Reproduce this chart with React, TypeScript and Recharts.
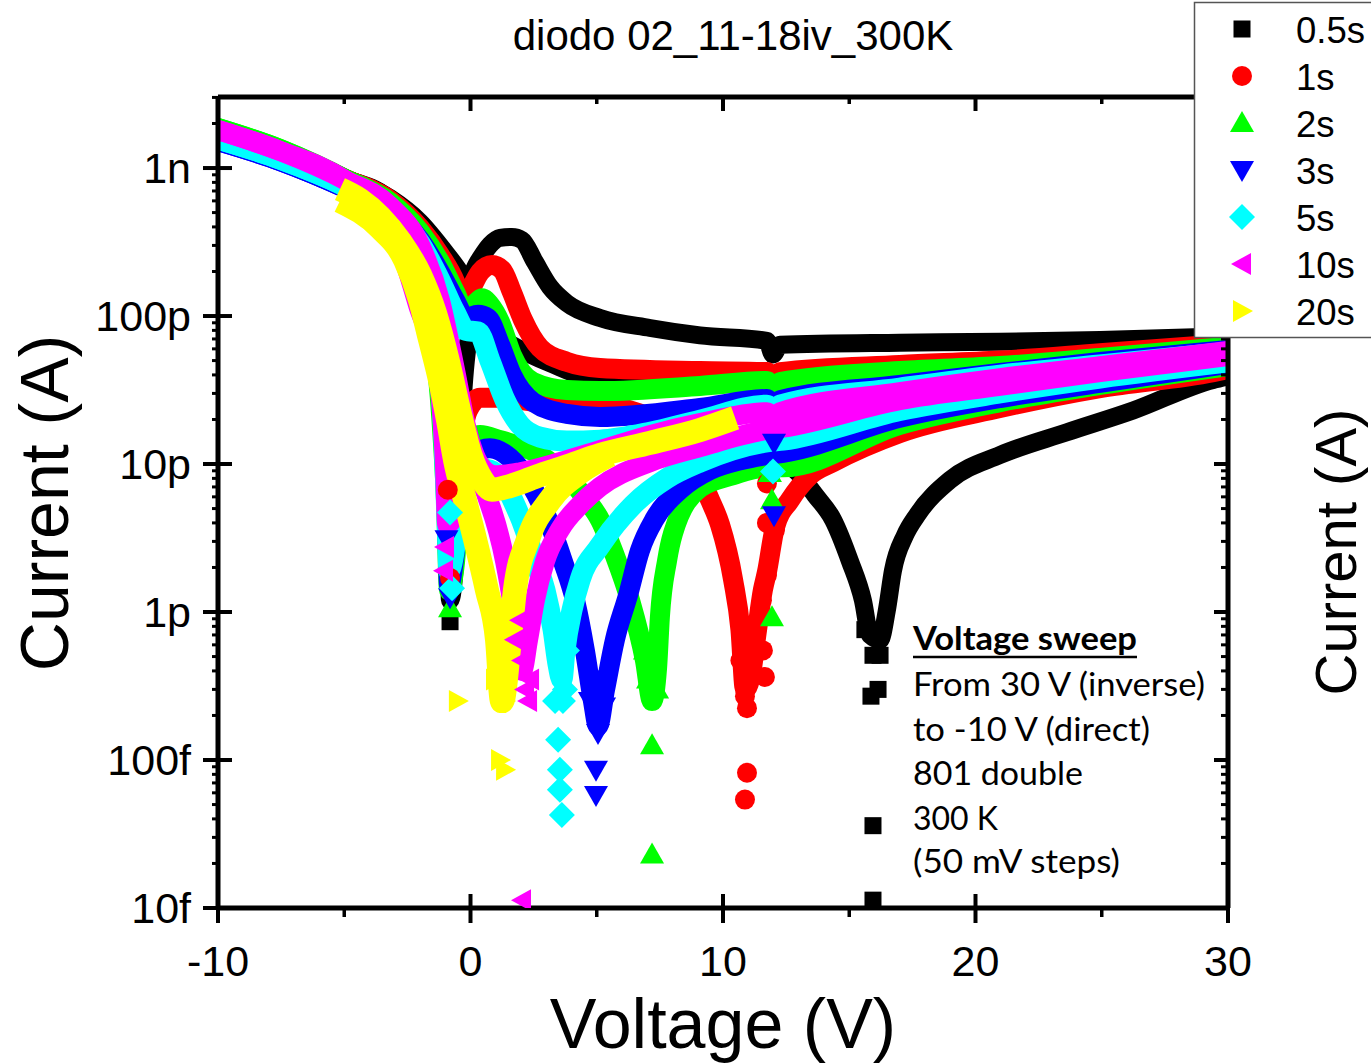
import React from 'react';
import { ComposedChart, Line, XAxis, YAxis } from 'recharts';

type Pt = [number, number]; // [voltage V, |current| pA]

// ---- 0.5s (black) ----
const BLACK_UP: Pt[] = [[-10, 1830], [-7.54, 1320], [-4.97, 855], [-3.19, 627], [-2.0, 432], [-1.01, 271], [-0.42, 198], [-0.18, 170], [0.3, 232], [0.77, 302], [1.17, 337], [1.64, 342], [2.04, 326], [2.55, 232], [3.15, 157], [3.82, 122], [5.13, 97], [7.11, 83], [9.09, 74], [11.74, 68], [11.98, 55], [12.26, 64], [17.0, 66], [20.97, 67], [24.93, 69], [30, 73]];
const BLACK_LOW: Pt[] = [[-10, 1830], [-7.54, 1320], [-4.97, 855], [-3.19, 608], [-2.4, 326], [-1.8, 150], [-1.3, 50], [-1.05, 12.4], [-0.9, 3.6], [-0.81, 1.2], [-0.61, 2.2], [-0.42, 12.4], [-0.22, 43], [0.06, 80], [0.57, 83], [1.17, 71], [3.15, 48], [5.13, 37], [9.09, 35], [11.74, 35], [12.38, 11.9], [13.05, 8.4], [13.64, 6.2], [14.36, 4.2], [15.03, 2.2], [15.54, 1.2], [15.82, 0.7], [16.22, 0.65], [16.49, 1.03], [16.73, 1.9], [17.21, 3.3], [17.68, 4.5], [18.99, 7.8], [20.97, 11.5], [23.62, 16.4], [26.24, 23], [29.41, 37], [30, 39]];
const BLACK_MARKS: Pt[] = [[-0.81, 0.86], [15.62, 0.76], [15.94, 0.51], [16.22, 0.51], [16.14, 0.3], [15.86, 0.27], [15.94, 0.036], [15.94, 0.0113]];

// ---- 1s (red) ----
const RED_UP: Pt[] = [[-10, 1806], [-7.54, 1303], [-4.97, 843], [-3.19, 608], [-2.0, 393], [-1.21, 258], [-0.61, 170], [-0.34, 128], [-0.02, 150], [0.38, 198], [0.85, 221], [1.25, 205], [1.64, 145], [2.08, 94], [2.75, 61], [3.82, 49], [5.13, 44.6], [9.09, 42.5], [11.74, 41.8], [11.98, 35.8], [12.26, 41.8], [17.0, 46.7], [20.97, 50], [24.93, 56], [30, 65]];
const RED_LOW: Pt[] = [[-10, 1806], [-7.54, 1303], [-4.97, 843], [-3.19, 580], [-2.4, 302], [-1.8, 139], [-1.3, 47], [-1.05, 13.4], [-0.9, 4.2], [-0.81, 2.2], [-0.61, 3.6], [-0.42, 10.6], [-0.1, 23], [0.38, 28], [1.17, 28], [2.75, 26], [5.13, 25], [7.11, 20.5], [8.3, 14.5], [9.09, 8.0], [9.49, 5.7], [9.88, 3.9], [10.4, 1.65], [10.69, 0.76], [10.87, 0.3], [11.07, 0.35], [11.35, 0.76], [11.58, 1.41], [11.74, 1.86], [12.06, 3.75], [12.65, 5.7], [13.45, 8.4], [14.36, 10.3], [17.0, 16.2], [20.97, 23.9], [24.93, 32.6], [29.41, 41.8], [30, 43.9]];
const RED_MARKS: Pt[] = [[-0.81, 1.7], [-0.9, 6.7], [10.75, 0.65], [10.69, 0.47], [10.87, 0.27], [10.95, 0.224], [10.95, 0.082], [10.87, 0.054], [11.58, 0.55], [11.66, 0.364], [11.54, 1.2], [11.74, 1.78], [11.74, 7.4], [11.74, 4.0], [12.06, 3.6]];

// ---- 2s (green) ----
const GREEN_UP: Pt[] = [[-10, 1862], [-7.54, 1344], [-4.97, 843], [-3.19, 589], [-2.0, 370], [-1.21, 232], [-0.61, 145], [-0.18, 106], [0.14, 119], [0.46, 132], [0.77, 119], [1.17, 91], [1.64, 54.5], [2.48, 35.8], [3.82, 31.6], [5.13, 31.1], [9.09, 33.7], [11.74, 36.4], [11.98, 31.6], [12.26, 35.8], [17.0, 42.5], [20.97, 45.9], [24.93, 52], [30, 62]];
const GREEN_LOW: Pt[] = [[-10, 1862], [-7.54, 1344], [-4.97, 843], [-3.58, 608], [-2.79, 352], [-2.08, 175], [-1.45, 69], [-1.15, 19.8], [-0.97, 5.7], [-0.85, 1.41], [-0.61, 2.2], [-0.42, 6.7], [-0.1, 12.4], [0.38, 15.7], [1.17, 14.5], [2.75, 11.5], [3.94, 7.8], [4.61, 5.7], [5.13, 4.2], [5.72, 2.4], [6.32, 1.2], [6.91, 0.47], [7.19, 0.25], [7.39, 0.42], [7.5, 0.92], [7.78, 2.2], [8.02, 3.4], [9.09, 6.9], [10.4, 8.4], [11.74, 9.5], [12.38, 9.5], [17.0, 18.4], [20.97, 26.2], [24.93, 34.2], [30, 45.9]];
const GREEN_MARKS: Pt[] = [[-0.81, 1.06], [6.91, 0.55], [7.03, 0.35], [7.39, 0.3], [7.19, 0.126], [7.19, 0.023], [11.86, 8.7], [11.94, 5.7], [11.94, 0.92]];

// ---- 3s (blue) ----
const BLUE_UP: Pt[] = [[-10, 1521], [-7.54, 1115], [-4.97, 733], [-3.19, 520], [-2.0, 326], [-1.21, 198], [-0.61, 128], [-0.18, 97], [0.3, 102], [0.69, 97], [1.17, 64], [1.64, 40], [2.48, 26.2], [3.82, 21.8], [5.13, 20.8], [9.09, 23.9], [11.74, 27.5], [12.02, 23], [12.26, 27], [17.0, 34.2], [20.97, 41.2], [24.93, 48.9], [30, 59]];
const BLUE_LOW: Pt[] = [[-10, 1521], [-7.54, 1115], [-4.97, 733], [-3.58, 562], [-2.79, 326], [-2.08, 150], [-1.3, 59], [-1.05, 17], [-0.93, 4.9], [-0.85, 1.52], [-0.61, 2.6], [-0.34, 7.8], [0.06, 11.5], [0.77, 12.8], [1.56, 11], [2.36, 7.4], [3.07, 4.2], [3.66, 2.2], [4.14, 1.2], [4.53, 0.55], [4.85, 0.25], [5.05, 0.17], [5.33, 0.3], [5.72, 0.65], [6.24, 1.3], [6.71, 2.6], [7.31, 4.3], [8.3, 6.7], [9.49, 9.1], [10.69, 10.6], [11.74, 11.5], [12.38, 11.9], [17.0, 20.5], [20.97, 27.9], [24.93, 35.3], [30, 47.4]];
const BLUE_MARKS: Pt[] = [[-0.81, 1.26], [-0.95, 3.1], [4.73, 0.25], [4.85, 0.35], [5.13, 0.3], [5.29, 0.23], [5.05, 0.152], [4.97, 0.086], [4.97, 0.058], [12.02, 4.5], [12.02, 13.9]];

// ---- 5s (cyan) ----
const CYAN_UP: Pt[] = [[-10, 1570], [-7.54, 1150], [-4.97, 756], [-3.19, 520], [-2.0, 311], [-1.21, 175], [-0.61, 106], [-0.18, 80], [0.3, 78], [0.77, 50], [1.37, 27], [1.96, 18.4], [2.75, 15.2], [3.82, 14.3], [5.13, 14.5], [7.11, 16.4], [9.09, 19.8], [11.74, 25], [12.02, 21.4], [12.26, 25], [17.0, 32.6], [20.97, 39.9], [24.93, 46.7], [30, 57]];
const CYAN_LOW: Pt[] = [[-10, 1570], [-7.54, 1150], [-4.97, 756], [-3.58, 562], [-2.79, 316], [-2.08, 139], [-1.3, 50], [-1.05, 14.5], [-0.93, 4.2], [-0.85, 1.9], [-0.57, 3.1], [-0.3, 6.7], [0.18, 9.4], [0.77, 9.1], [1.37, 7.2], [1.76, 5.3], [2.16, 3.6], [2.55, 2.2], [2.95, 1.41], [3.27, 0.76], [3.47, 0.44], [3.62, 0.35], [3.74, 0.55], [4.02, 1.03], [4.34, 1.65], [5.13, 2.8], [6.44, 5.3], [7.78, 8.0], [9.09, 10.3], [11.74, 14.1], [12.38, 14.5], [17.0, 23], [20.97, 30.2], [24.93, 38.1], [30, 48.9]];
const CYAN_MARKS: Pt[] = [[-0.73, 1.45], [-0.81, 4.7], [3.35, 0.25], [3.66, 0.25], [3.74, 0.3], [3.47, 0.137], [3.54, 0.086], [3.54, 0.063], [3.62, 0.0425], [3.82, 0.55], [11.98, 8.9]];

// ---- 10s (magenta) ----
const MAGENTA_UP: Pt[] = [[-10, 1806], [-7.54, 1303], [-4.97, 830], [-3.19, 553], [-2.0, 302], [-1.21, 128], [-0.61, 43], [-0.14, 17], [0.38, 9.8], [0.97, 8.4], [1.96, 8.8], [3.54, 10.3], [5.13, 12.4], [7.11, 15.7], [9.09, 18.9], [11.74, 22.4], [12.02, 19.2], [12.26, 22.4], [17.0, 30.6], [20.97, 38.1], [24.93, 45.9], [30, 58]];
const MAGENTA_LOW: Pt[] = [[-10, 1806], [-7.54, 1303], [-4.97, 830], [-3.58, 537], [-2.79, 288], [-2.08, 119], [-1.25, 37], [-1.02, 10.6], [-0.92, 3.9], [-0.73, 4.2], [-0.34, 6.7], [0.3, 7.8], [0.77, 5.3], [1.37, 2.2], [1.64, 1.2], [1.88, 0.55], [2.04, 0.4], [2.28, 0.65], [2.55, 1.2], [2.95, 2.2], [3.54, 3.6], [4.34, 5.3], [5.13, 7.0], [7.11, 10.3], [9.09, 13], [11.74, 17], [12.38, 17.6], [17.0, 27], [20.97, 33.7], [24.93, 41.8], [30, 53.7]];
const MAGENTA_MARKS: Pt[] = [[-1.01, 2.75], [-1.05, 1.9], [1.76, 0.65], [1.96, 0.88], [2.04, 0.47], [2.16, 0.3], [2.28, 0.25], [2.36, 0.35], [2.04, 0.0113]];

// ---- 20s (yellow) ----
const YELLOW_UP: Pt[] = [[-5.17, 720], [-4.38, 610], [-3.58, 467], [-2.79, 320], [-2.0, 190], [-1.41, 105], [-0.9, 50], [-0.45, 23], [0.0, 11.5], [0.46, 7.8], [0.85, 6.7], [1.56, 7.1], [2.75, 8.4], [3.94, 9.8], [5.13, 11.5], [7.11, 13.9], [9.09, 17], [10.48, 20.5]];
const YELLOW_LOW: Pt[] = [[-5.17, 600], [-3.58, 393], [-2.59, 239], [-2.0, 128], [-1.6, 69], [-1.21, 37], [-0.89, 19.8], [-0.61, 10.6], [-0.22, 5.7], [0.18, 3.1], [0.65, 1.41], [1.05, 0.65], [1.25, 0.25], [1.56, 0.65], [1.76, 1.41], [2.28, 3.1], [3.15, 5.7], [4.34, 8.8], [5.52, 11.5]];
const YELLOW_MARKS: Pt[] = [[-0.5, 0.25], [1.05, 0.88], [1.17, 0.47], [1.37, 0.25], [0.97, 0.35], [1.17, 0.1], [1.37, 0.086]];

const X_MAJOR = [-10, 0, 10, 20, 30];
const X_MINOR = [-5, 5, 15, 25];
const Y_MAJOR = [0.01, 0.1, 1, 10, 100, 1000]; // pA
const Y_LABELS = ['10f', '100f', '1p', '10p', '100p', '1n'];
const Y_MINOR_STEPS = [2, 3, 4, 5, 6, 7, 8, 9];
const Y_MIN = 0.01;
const Y_MAX = 3020;

const X_TICKS = [...X_MAJOR, ...X_MINOR].sort((a, b) => a - b);
const Y_TICKS = [
  ...Y_MAJOR,
  ...Y_MAJOR.flatMap(d => Y_MINOR_STEPS.map(k => +(d * k).toPrecision(3))).filter(v => v < Y_MAX),
].sort((a, b) => a - b);

const FONT = '"Liberation Sans", Arial, sans-serif';

type Shape = 'square' | 'circle' | 'up' | 'down' | 'diamond' | 'left' | 'right';

const SERIES: { name: string; color: string; shape: Shape; band: number; cap: 'round' | 'butt'; lines: Pt[][]; marks: Pt[] }[] = [
  { name: '0.5s', color: '#000000', shape: 'square', band: 18, cap: 'round', lines: [BLACK_LOW, BLACK_UP], marks: BLACK_MARKS },
  { name: '1s', color: '#ff0000', shape: 'circle', band: 20, cap: 'round', lines: [RED_LOW, RED_UP], marks: RED_MARKS },
  { name: '2s', color: '#00ff00', shape: 'up', band: 20, cap: 'round', lines: [GREEN_LOW, GREEN_UP], marks: GREEN_MARKS },
  { name: '3s', color: '#0000ff', shape: 'down', band: 20, cap: 'round', lines: [BLUE_LOW, BLUE_UP], marks: BLUE_MARKS },
  { name: '5s', color: '#00ffff', shape: 'diamond', band: 21, cap: 'round', lines: [CYAN_LOW, CYAN_UP], marks: CYAN_MARKS },
  { name: '10s', color: '#ff00ff', shape: 'left', band: 20, cap: 'round', lines: [MAGENTA_LOW, MAGENTA_UP], marks: MAGENTA_MARKS },
  { name: '20s', color: '#ffff00', shape: 'right', band: 24, cap: 'butt', lines: [YELLOW_LOW, YELLOW_UP], marks: YELLOW_MARKS },
];

const toRows = (pts: Pt[]) => pts.map(([v, i]) => ({ v, i }));

function Marker({ cx, cy, shape, color }: { cx: number; cy: number; shape: Shape; color: string }) {
  switch (shape) {
    case 'square':
      return <rect x={cx - 8.5} y={cy - 8.5} width={17} height={17} fill={color} />;
    case 'circle':
      return <circle cx={cx} cy={cy} r={10} fill={color} />;
    case 'up':
      return <polygon points={`${cx},${cy - 12} ${cx - 12},${cy + 9} ${cx + 12},${cy + 9}`} fill={color} />;
    case 'down':
      return <polygon points={`${cx - 12},${cy - 9} ${cx + 12},${cy - 9} ${cx},${cy + 12}`} fill={color} />;
    case 'diamond':
      return <polygon points={`${cx},${cy - 13} ${cx + 13},${cy} ${cx},${cy + 13} ${cx - 13},${cy}`} fill={color} />;
    case 'left':
      return <polygon points={`${cx - 11},${cy} ${cx + 9},${cy - 11} ${cx + 9},${cy + 11}`} fill={color} />;
    default:
      return <polygon points={`${cx + 11},${cy} ${cx - 9},${cy - 11} ${cx - 9},${cy + 11}`} fill={color} />;
  }
}

function BottomTick({ x, y, payload }: any) {
  const v = payload.value;
  if (!X_MAJOR.includes(v)) return <line x1={x} x2={x} y1={y} y2={y + 9} stroke="#000" strokeWidth={3.5} />;
  return (
    <g>
      <line x1={x} x2={x} y1={y - 14} y2={y + 15} stroke="#000" strokeWidth={4} />
      <text x={x} y={y + 68} textAnchor="middle" fontSize={43} fontFamily={FONT} fill="#000">{v}</text>
    </g>
  );
}

function TopTick({ x, y, payload }: any) {
  const major = X_MAJOR.includes(payload.value);
  return <line x1={x} x2={x} y1={y} y2={y + (major ? 14 : 7)} stroke="#000" strokeWidth={major ? 4 : 3.5} />;
}

function LeftTick({ x, y, payload }: any) {
  const idx = Y_MAJOR.indexOf(payload.value);
  if (idx < 0) return <line x1={x - 6} x2={x} y1={y} y2={y} stroke="#000" strokeWidth={3} />;
  return (
    <g>
      <line x1={x - 15} x2={x + 14} y1={y} y2={y} stroke="#000" strokeWidth={4} />
      <text x={x - 27} y={y + 15} textAnchor="end" fontSize={43} fontFamily={FONT} fill="#000">{Y_LABELS[idx]}</text>
    </g>
  );
}

function RightTick({ x, y, payload }: any) {
  const major = Y_MAJOR.includes(payload.value);
  return <line x1={x - (major ? 14 : 7)} x2={x} y1={y} y2={y} stroke="#000" strokeWidth={major ? 4 : 3} />;
}

const NOTES = [
  { text: 'From 30 V (inverse)', y: 696, w: 292 },
  { text: 'to -10 V (direct)', y: 741, w: 237 },
  { text: '801 double', y: 785, w: 170 },
  { text: '300 K', y: 830, w: 85 },
  { text: '(50 mV steps)', y: 873, w: 207 },
];

// plot box: x 218..1228, y 97..908
const AX_L = 60;
const AX_R = 40;
const AX_T = 20;
const AX_B = 70;

export default function App() {
  const axisLine = { stroke: '#000', strokeWidth: 5 };
  return (
    <div style={{ position: 'absolute', left: 0, top: 0, width: 1371, height: 1063, background: '#fff', overflow: 'hidden' }}>
      <ComposedChart width={1371} height={1063}
        margin={{ top: 97 - AX_T, right: 143 - AX_R, bottom: 155 - AX_B, left: 218 - AX_L }}>
        <XAxis dataKey="v" type="number" domain={[-10, 30]} ticks={X_TICKS} interval={0} height={AX_B}
          tickSize={0} tickMargin={0} axisLine={axisLine} tick={<BottomTick />} allowDataOverflow />
        <XAxis xAxisId="top" orientation="top" dataKey="v" type="number" domain={[-10, 30]} ticks={X_TICKS} interval={0}
          height={AX_T} tickSize={0} tickMargin={0} axisLine={axisLine} tick={<TopTick />} allowDataOverflow />
        <YAxis dataKey="i" type="number" scale="log" domain={[Y_MIN, Y_MAX]} ticks={Y_TICKS} interval={0} width={AX_L}
          tickSize={0} tickMargin={0} axisLine={axisLine} tick={<LeftTick />} allowDataOverflow />
        <YAxis yAxisId="right" orientation="right" dataKey="i" type="number" scale="log" domain={[Y_MIN, Y_MAX]}
          ticks={Y_TICKS} interval={0} width={AX_R} tickSize={0} tickMargin={0} axisLine={axisLine} tick={<RightTick />} allowDataOverflow />
        {SERIES.flatMap(s => [
          ...s.lines.map((pts, k) => (
            <Line key={`${s.name}-band-${k}`} data={toRows(pts)} dataKey="i" type="monotone" stroke={s.color}
              strokeWidth={s.band} strokeLinejoin="round" strokeLinecap={s.cap} dot={false} activeDot={false}
              isAnimationActive={false} />
          )),
          <Line key={`${s.name}-marks`} data={toRows(s.marks)} dataKey="i" stroke="none" strokeWidth={0}
            activeDot={false} isAnimationActive={false}
            dot={(p: any) => <Marker key={`${s.name}-m-${p.index}`} cx={p.cx} cy={p.cy} shape={s.shape} color={s.color} />} />,
        ])}
      </ComposedChart>

      <svg width={1371} height={1063} style={{ position: 'absolute', left: 0, top: 0, pointerEvents: 'none' }}>
        <text x={733} y={50} textAnchor="middle" fontSize={42} fontFamily={FONT}>diodo 02_11-18iv_300K</text>
        <text x={723} y={1048} textAnchor="middle" fontSize={70} fontFamily={FONT}>Voltage (V)</text>
        <text transform="translate(68,503) rotate(-90)" textAnchor="middle" fontSize={68} fontFamily={FONT}>Current (A)</text>
        <text transform="translate(1356,552) rotate(-90)" textAnchor="middle" fontSize={58} fontFamily={FONT}>Current (A)</text>

        <text x={913} y={650} fontSize={33} fontWeight={700} fontFamily="Lato, 'Open Sans', sans-serif"
          textLength={224} lengthAdjust="spacingAndGlyphs">Voltage sweep</text>
        <line x1={913} x2={1137} y1={657} y2={657} stroke="#000" strokeWidth={2.5} />
        {NOTES.map(n => (
          <text key={n.text} x={913} y={n.y} fontSize={33} fontFamily="Lato, 'Open Sans', sans-serif"
            textLength={n.w} lengthAdjust="spacingAndGlyphs">{n.text}</text>
        ))}

        <rect x={1194.5} y={2.5} width={190} height={335} fill="#fff" stroke="#555" strokeWidth={1.5} />
        {SERIES.map((s, k) => {
          const cy = 29 + k * 47;
          return (
            <g key={s.name}>
              <Marker cx={1242} cy={cy} shape={s.shape} color={s.color} />
              <text x={1296} y={cy + 14} fontSize={36.5} fontFamily={FONT}>{s.name}</text>
            </g>
          );
        })}
      </svg>
    </div>
  );
}
